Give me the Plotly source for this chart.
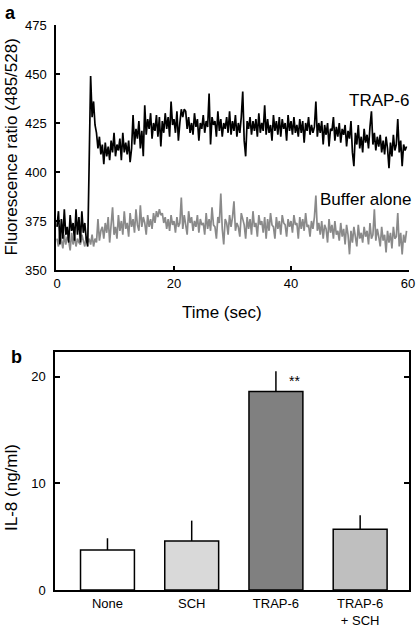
import plotly.graph_objects as go

# ---------------- Data ----------------
TIME_STEP = 0.25  # seconds between samples
trap6 = [
    372, 380, 363, 376, 366, 381, 368, 372, 364, 378, 370, 374, 365, 381, 368, 377,
    364, 380, 369, 374, 366, 362, 405, 449, 428, 436, 424, 420, 412, 418, 409, 414,
    404, 415, 408, 413, 406, 416, 410, 420, 408, 414, 411, 417, 406, 420, 410, 415,
    409, 416, 405, 412, 429, 414, 422, 417, 426, 412, 421, 408, 434, 419, 427, 422,
    430, 417, 425, 421, 429, 418, 428, 413, 426, 420, 430, 422, 428, 418, 436, 424,
    427, 420, 431, 416, 425, 432, 428, 432, 431, 422, 428, 420, 425, 419, 430, 423,
    427, 416, 425, 422, 429, 420, 426, 423, 440, 414, 428, 424, 426, 418, 431, 421,
    427, 418, 425, 422, 428, 420, 431, 419, 426, 421, 429, 418, 425, 420, 428, 441,
    416, 408, 426, 422, 428, 419, 426, 421, 427, 418, 430, 420, 425, 421, 434, 419,
    427, 420, 424, 416, 429, 421, 426, 419, 428, 418, 427, 422, 425, 416, 429, 421,
    426, 419, 428, 420, 424, 418, 427, 420, 426, 415, 425, 421, 428, 419, 424, 420,
    423, 436, 418, 425, 420, 426, 414, 424, 419, 425, 413, 422, 421, 428, 416, 423,
    418, 425, 415, 422, 419, 424, 413, 421, 417, 426, 410, 403, 420, 414, 424, 412,
    418, 410, 422, 415, 419, 412, 423, 431, 414, 420, 411, 418, 413, 419, 410, 416,
    409, 418, 412, 402, 415, 408, 419, 411, 414, 427, 410, 416, 403, 414, 411, 413,
]
buffer_alone = [
    366, 362, 370, 364, 361, 368, 363, 367, 365, 360, 369, 363, 367, 362, 366, 364,
    363, 368, 365, 362, 367, 364, 366, 363, 368, 362, 366, 364, 376, 365, 370, 372,
    366, 374, 369, 377, 364, 373, 382, 368, 372, 366, 378, 370, 375, 368, 380, 371,
    374, 367, 379, 372, 376, 369, 381, 373, 370, 383, 372, 377, 374, 368, 378, 372,
    376, 371, 379, 374, 380, 377, 381, 378, 379, 374, 377, 371, 376, 370, 378, 373,
    375, 369, 377, 372, 374, 387, 371, 378, 373, 368, 380, 374, 377, 370, 375, 372,
    378, 369, 376, 373, 374, 368, 379, 371, 376, 370, 382, 373, 372, 366, 377, 374,
    389, 371, 363, 376, 374, 368, 378, 372, 377, 385, 370, 374, 372, 367, 379, 375,
    373, 366, 377, 371, 376, 368, 380, 372, 374, 367, 378, 373, 375, 369, 377, 366,
    376, 370, 379, 373, 372, 366, 377, 371, 375, 368, 378, 374, 373, 367, 376, 372,
    375, 369, 378, 373, 374, 366, 377, 371, 376, 370, 379, 372, 373, 367, 375, 371,
    377, 388, 370, 374, 368, 375, 366, 373, 371, 364, 376, 369, 373, 366, 375, 368,
    370, 365, 374, 367, 371, 363, 373, 368, 358, 370, 364, 372, 367, 362, 373, 366,
    369, 364, 372, 367, 370, 363, 374, 366, 368, 381, 365, 371, 367, 362, 372, 365,
    368, 359, 370, 364, 369, 361, 372, 366, 367, 379, 362, 369, 358, 368, 364, 370,
]
time_sec = [i * TIME_STEP for i in range(len(trap6))]

top_yticks = [350, 375, 400, 425, 450, 475]
top_xticks = [0, 20, 40, 60]

groups = ["None", "SCH", "TRAP-6", "TRAP-6<br>+ SCH"]
il8_mean = [3.75, 4.6, 18.6, 5.7]
il8_err = [1.1, 1.9, 1.9, 1.3]
bar_colors = ["#ffffff", "#d9d9d9", "#808080", "#bfbfbf"]
bottom_yticks = [0, 10, 20]

FONT = "Liberation Sans, Arial, Helvetica, sans-serif"
W, H = 420, 628


def fx(p):
    return p / W


def fy(p):
    return 1 - p / H


fig = go.Figure()

fig.add_trace(go.Scatter(x=time_sec, y=buffer_alone, mode="lines",
                         line=dict(color="#8a8a8a", width=1.7),
                         xaxis="x", yaxis="y", showlegend=False))
fig.add_trace(go.Scatter(x=time_sec, y=trap6, mode="lines",
                         line=dict(color="#000000", width=1.7),
                         xaxis="x", yaxis="y", showlegend=False))

fig.add_trace(go.Bar(x=list(range(len(groups))), y=il8_mean,
                     marker=dict(color=bar_colors, line=dict(color="black", width=1.5)),
                     width=0.64,
                     error_y=dict(type="data", array=il8_err, arrayminus=[0] * len(il8_err),
                                  symmetric=False, color="black", thickness=1.5, width=0),
                     xaxis="x2", yaxis="y2", showlegend=False))

axis_common = dict(showgrid=False, zeroline=False, showline=True, linecolor="black",
                   linewidth=1.5, ticks="inside", tickcolor="black", tickwidth=1.5,
                   tickfont=dict(family=FONT, size=13, color="black"))

fig.update_layout(
    width=W, height=H,
    margin=dict(l=0, r=0, t=0, b=0, autoexpand=False),
    paper_bgcolor="white", plot_bgcolor="white",
    font=dict(family=FONT, color="black"),
    xaxis=dict(domain=[fx(56), fx(409)], range=[-0.17, 60.17], tickvals=top_xticks,
               ticklen=4, anchor="y", ticklabelstandoff=1, **axis_common),
    yaxis=dict(domain=[fy(270), fy(25)], range=[350, 475], tickvals=top_yticks,
               ticklen=4, anchor="x", ticklabelstandoff=5, **axis_common),
    xaxis2=dict(domain=[fx(55), fx(409)], range=[-0.623, 3.58],
                tickvals=list(range(len(groups))), ticktext=groups,
                showgrid=False, zeroline=False, showline=True, linecolor="black",
                linewidth=1.5, mirror=True, ticks="", anchor="y2",
                ticklabelstandoff=1,
                tickfont=dict(family=FONT, size=13, color="black")),
    yaxis2=dict(domain=[fy(590), fy(352)], range=[0, 22.3], tickvals=bottom_yticks,
                mirror="ticks", ticklen=5, anchor="x2", ticklabelstandoff=5,
                **axis_common),
)

ann_common = dict(showarrow=False, xanchor="center", yanchor="middle")
annotations = [
    dict(text="<b>a</b>", x=fx(10), y=fy(13), xref="paper", yref="paper",
         font=dict(size=18, family=FONT), **ann_common),
    dict(text="<b>b</b>", x=fx(16), y=fy(357), xref="paper", yref="paper",
         font=dict(size=18, family=FONT), **ann_common),
    dict(text="Fluorescence ratio (485/528)", x=fx(11), y=fy(147.5), xref="paper",
         yref="paper", textangle=-90, font=dict(size=17, family=FONT), **ann_common),
    dict(text="Time (sec)", x=fx(222), y=fy(313), xref="paper", yref="paper",
         font=dict(size=17, family=FONT), **ann_common),
    dict(text="IL-8 (ng/ml)", x=fx(11), y=fy(488), xref="paper", yref="paper",
         textangle=-90, font=dict(size=17, family=FONT), **ann_common),
    dict(text="TRAP-6", x=55.0, y=436.5, xref="x", yref="y",
         font=dict(size=17, family=FONT), **ann_common),
    dict(text="Buffer alone", x=52.7, y=386, xref="x", yref="y",
         font=dict(size=17, family=FONT), **ann_common),
    dict(text="**", x=2.22, y=il8_mean[2] + 1.0, xref="x2", yref="y2",
         font=dict(size=14, family=FONT), **ann_common),
]
fig.update_layout(annotations=annotations)

fig.write_html(
    "out.html",
    config={"displayModeBar": False},
    post_script="document.body.style.margin='0px';document.body.style.overflow='hidden';",
)
